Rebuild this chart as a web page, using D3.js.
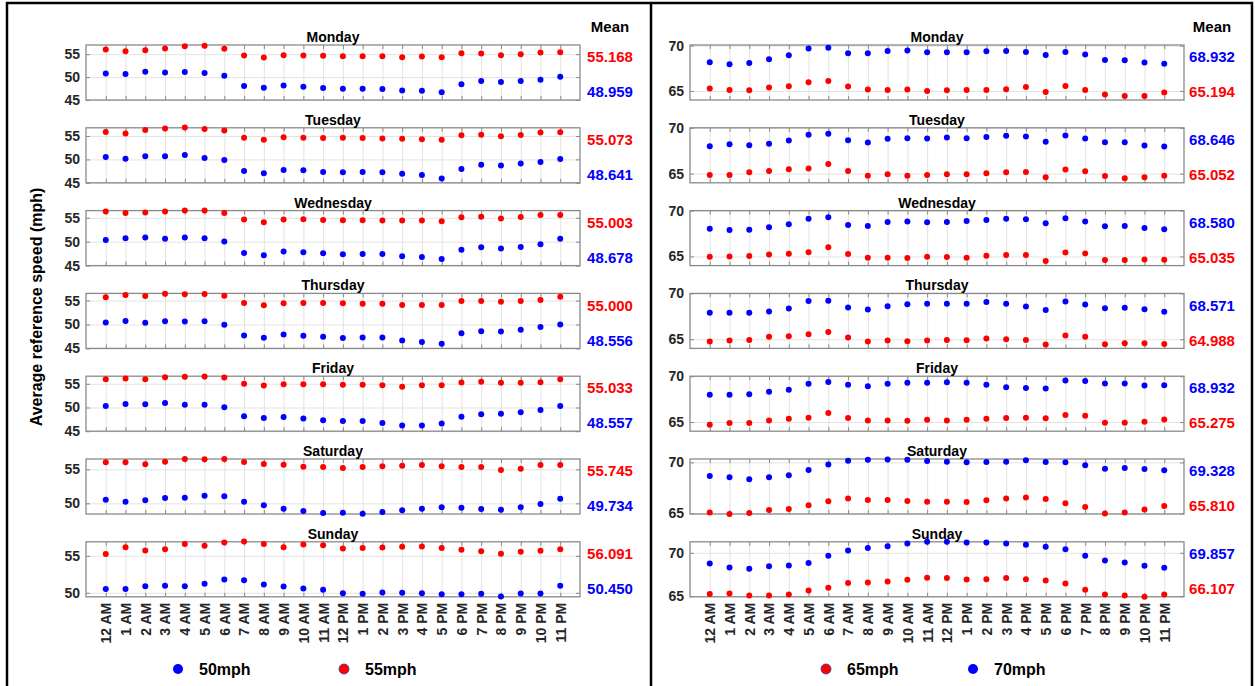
<!DOCTYPE html>
<html>
<head>
<meta charset="utf-8">
<script src="https://cdn.jsdelivr.net/npm/d3@7"></script>
<style>
  body { margin: 0; background: #fff; }
  svg { display: block; font-family: "Liberation Sans", Arial, sans-serif; font-weight: bold; }
</style>
</head>
<body>
<div id="chart"></div>
<script>
// hour-of-day categories
const hours = ['12 AM','1 AM','2 AM','3 AM','4 AM','5 AM','6 AM','7 AM','8 AM','9 AM','10 AM','11 AM',
  '12 PM','1 PM','2 PM','3 PM','4 PM','5 PM','6 PM','7 PM','8 PM','9 PM','10 PM','11 PM'];
const days = ['Monday','Tuesday','Wednesday','Thursday','Friday','Saturday','Sunday'];

// 50 mph zones (one row per day)
const speed50 = [
  [50.80,50.65,51.16,51.01,51.09,50.87,50.29,48.04,47.68,48.19,47.90,47.61,47.46,47.46,47.39,47.10,47.03,46.67,48.41,49.13,48.91,49.13,49.42,50.07],
  [50.51,50.14,50.65,50.65,50.94,50.29,49.86,47.54,47.03,47.75,47.68,47.32,47.25,47.32,47.25,46.96,46.67,45.94,47.97,48.84,48.70,49.13,49.42,50.07],
  [50.37,50.71,50.85,50.64,50.85,50.71,50.02,47.65,47.16,47.93,47.79,47.58,47.37,47.44,47.44,46.95,46.81,46.39,48.34,48.83,48.55,48.90,49.46,50.64],
  [50.41,50.75,50.34,50.68,50.61,50.68,49.92,47.70,47.22,47.91,47.63,47.43,47.15,47.29,47.29,46.66,46.32,45.97,48.19,48.60,48.53,48.88,49.50,49.99],
  [50.31,50.73,50.66,50.94,50.59,50.59,50.03,48.14,47.80,48.00,47.66,47.31,47.17,47.17,46.75,46.19,46.19,46.61,48.07,48.56,48.70,48.98,49.47,50.31],
  [50.54,50.25,50.44,50.78,50.83,51.13,51.03,50.25,49.71,49.22,48.87,48.58,48.63,48.48,48.73,48.97,49.22,49.41,49.36,49.17,49.07,49.41,49.90,50.69],
  [50.50,50.50,50.90,50.95,50.90,51.22,51.80,51.71,51.13,50.86,50.59,50.41,49.95,49.86,50.05,50.00,49.95,49.82,49.82,49.86,49.50,49.91,49.91,50.95]
];
// 55 mph zones
const speed55 = [
  [56.01,55.65,55.87,56.23,56.74,56.81,56.16,54.71,54.28,54.78,54.71,54.64,54.57,54.57,54.57,54.35,54.49,54.35,55.22,55.14,54.78,55.00,55.36,55.43],
  [55.87,55.51,56.30,56.59,56.81,56.52,56.16,54.64,54.20,54.71,54.64,54.57,54.64,54.57,54.49,54.42,54.28,54.20,55.14,55.29,54.93,55.22,55.72,55.80],
  [56.29,56.01,56.08,56.29,56.50,56.50,56.01,54.62,54.06,54.62,54.69,54.55,54.48,54.48,54.41,54.41,54.41,54.27,55.10,55.24,54.83,55.17,55.59,55.59],
  [55.67,56.16,55.95,56.43,56.30,56.37,56.02,54.49,54.01,54.42,54.49,54.49,54.42,54.36,54.36,54.08,54.08,54.08,54.91,54.91,54.77,54.91,55.12,55.81],
  [55.97,56.11,55.97,56.39,56.46,56.53,56.32,54.99,54.64,54.92,54.92,54.92,54.78,54.78,54.71,54.36,54.71,54.71,55.27,55.41,55.20,55.20,55.34,55.97],
  [56.03,56.03,55.74,56.13,56.52,56.47,56.52,56.08,55.78,55.69,55.39,55.34,55.20,55.34,55.44,55.54,55.64,55.44,55.34,55.34,54.90,55.10,55.64,55.64],
  [55.23,56.17,55.72,55.90,56.58,56.35,56.80,56.94,56.58,56.17,56.53,56.44,55.99,56.04,56.13,56.22,56.26,56.04,55.81,55.63,55.27,55.54,55.68,55.90]
];
// 65 mph zones
const speed65 = [
  [65.26,65.11,65.07,65.37,65.51,65.96,66.10,65.48,65.15,65.11,65.15,65.00,65.07,65.11,65.11,65.18,65.44,64.89,65.55,65.11,64.60,64.45,64.45,64.82],
  [64.85,64.85,65.15,65.29,65.47,65.55,66.06,65.29,64.78,64.93,64.78,64.85,64.93,64.93,65.04,65.15,65.18,64.60,65.44,65.26,64.74,64.49,64.60,64.78],
  [64.96,65.00,65.04,65.22,65.29,65.47,65.99,65.26,64.85,64.85,64.82,64.96,64.93,64.85,65.07,65.15,65.15,64.49,65.44,65.33,64.60,64.60,64.67,64.64],
  [64.74,64.85,64.93,65.26,65.33,65.55,65.80,65.18,64.74,64.85,64.78,64.85,64.93,64.89,65.07,65.00,64.93,64.42,65.40,65.26,64.45,64.56,64.56,64.49],
  [64.71,64.89,64.89,65.18,65.36,65.47,65.98,65.43,65.18,65.18,65.14,65.25,65.18,65.25,65.36,65.43,65.47,65.40,65.76,65.69,64.93,64.93,65.04,65.29],
  [65.07,64.93,65.03,65.33,65.42,65.78,66.18,66.44,66.31,66.31,66.21,66.14,66.14,66.11,66.27,66.44,66.54,66.41,65.98,65.62,64.97,65.07,65.36,65.72],
  [65.23,65.31,65.08,65.08,65.19,65.65,65.96,66.50,66.58,66.69,66.88,67.12,67.08,66.92,66.96,67.08,66.96,66.81,66.46,65.73,65.19,65.08,64.92,65.19]
];
// 70 mph zones
const speed70 = [
  [68.16,67.94,68.09,68.49,68.93,69.67,69.78,69.15,69.15,69.41,69.45,69.26,69.26,69.26,69.38,69.41,69.30,68.97,69.30,69.01,68.42,68.38,68.13,68.01],
  [67.99,68.21,68.10,68.25,68.61,69.23,69.34,68.65,68.39,68.80,68.87,68.83,68.94,68.87,69.01,69.12,69.05,68.47,69.16,68.83,68.43,68.43,68.07,67.96],
  [68.03,67.88,67.92,68.18,68.50,69.12,69.27,68.43,68.32,68.76,68.80,68.72,68.76,68.87,68.98,69.12,69.05,68.61,69.16,68.80,68.28,68.32,68.10,67.96],
  [67.88,67.88,67.88,68.03,68.36,69.16,69.20,68.47,68.25,68.61,68.83,68.87,68.87,68.87,69.05,68.87,68.58,68.18,69.12,68.80,68.39,68.43,68.28,67.99],
  [67.97,67.97,68.04,68.30,68.51,69.17,69.38,69.06,68.91,69.17,69.28,69.28,69.35,69.28,69.06,68.80,68.70,68.66,69.53,69.49,69.20,69.20,68.99,69.02],
  [68.66,68.53,68.33,68.53,68.73,69.25,69.80,70.16,70.26,70.29,70.26,70.13,70.07,70.00,70.03,70.07,70.20,70.03,70.00,69.71,69.38,69.44,69.35,69.22],
  [68.77,68.31,68.15,68.46,68.54,68.81,69.65,70.27,70.54,70.77,71.08,71.27,71.27,71.19,71.19,71.08,70.92,70.69,70.42,69.65,69.12,68.88,68.50,68.27]
];

// daily means printed at the right of each row
const mean50 = ['48.959','48.641','48.678','48.556','48.557','49.734','50.450'];
const mean55 = ['55.168','55.073','55.003','55.000','55.033','55.745','56.091'];
const mean65 = ['65.194','65.052','65.035','64.988','65.275','65.810','66.107'];
const mean70 = ['68.932','68.646','68.580','68.571','68.932','69.328','69.857'];

// y-axis limits and ticks per row
const yLimLeft = [[45,57],[45,56.75],[45,56.5],[45,56.5],[45,56.6],[48.43,56.52],[49.46,56.89]];
const yTicksLeft = [[45,50,55],[45,50,55],[45,50,55],[45,50,55],[45,50,55],[50,55],[50,55]];
const yLimRight = [[64,70.07],[64,70],[64,70],[64,70],[64,70],[64.93,70.33],[64.92,71.27]];
const yTicksRight = [[65,70],[65,70],[65,70],[65,70],[65,70],[65,70],[65,70]];

const RED = '#ff0000', BLUE = '#0000ff';

const width = 1255, height = 686;
const svg = d3.select('#chart').append('svg')
  .attr('width', width)
  .attr('height', height);

// outer frames
svg.append('rect')
  .attr('x', 7).attr('y', 3).attr('width', 1245).attr('height', 700)
  .attr('fill', 'none').attr('stroke', '#000').attr('stroke-width', 2.5);
svg.append('line')
  .attr('x1', 651).attr('x2', 651).attr('y1', 3).attr('y2', 700)
  .attr('stroke', '#000').attr('stroke-width', 2.5);

const rowTop = 45, rowStep = 82.8, rowH = 55;

function drawPanel(cfg) {
  const x = d3.scaleLinear().domain([-1, 24]).range([cfg.x0, cfg.x1]);

  // "Mean" header
  svg.append('text')
    .attr('x', cfg.meanX).attr('y', 32)
    .attr('text-anchor', 'middle')
    .style('font-size', '15px')
    .text('Mean');

  days.forEach((day, i) => {
    const top = rowTop + i * rowStep;
    const y = d3.scaleLinear().domain(cfg.yLim[i]).range([top + rowH, top]);
    const g = svg.append('g');

    // grid
    g.append('g')
      .attr('transform', `translate(0,${top + rowH})`)
      .call(d3.axisBottom(x).tickValues(d3.range(24)).tickSize(-rowH).tickFormat(''))
      .call(a => a.select('.domain').remove())
      .selectAll('line').attr('stroke', '#e3e3e3');
    g.append('g')
      .attr('transform', `translate(${cfg.x0},0)`)
      .call(d3.axisLeft(y).tickValues(cfg.yTicks[i]).tickSize(-(cfg.x1 - cfg.x0)).tickFormat(''))
      .call(a => a.select('.domain').remove())
      .selectAll('line').attr('stroke', '#e3e3e3');

    // inward ticks on all four sides
    const tickCol = '#8a8a8a';
    const bottomAx = g.append('g')
      .attr('transform', `translate(0,${top + rowH})`)
      .call(d3.axisBottom(x).tickValues(d3.range(24)).tickSize(-4)
        .tickFormat(i === days.length - 1 ? (d => hours[d]) : ''));
    g.append('g')
      .attr('transform', `translate(0,${top})`)
      .call(d3.axisTop(x).tickValues(d3.range(24)).tickSize(-4).tickFormat(''));
    const leftAx = g.append('g')
      .attr('transform', `translate(${cfg.x0},0)`)
      .call(d3.axisLeft(y).tickValues(cfg.yTicks[i]).tickSize(-4).tickPadding(6)
        .tickFormat(d3.format('d')));
    g.append('g')
      .attr('transform', `translate(${cfg.x1},0)`)
      .call(d3.axisRight(y).tickValues(cfg.yTicks[i]).tickSize(-4).tickFormat(''));

    g.selectAll('.domain').remove();
    g.selectAll('.tick line').filter(function() {
      return !d3.select(this).attr('stroke') || d3.select(this).attr('stroke') === 'currentColor';
    }).attr('stroke', tickCol).attr('stroke-width', 1);

    leftAx.selectAll('text')
      .attr('fill', '#262626')
      .style('font-size', '14px')
      .style('font-family', '"Liberation Sans", Arial, sans-serif')
      .style('font-weight', 'bold');

    if (i === days.length - 1) {
      bottomAx.selectAll('text')
        .attr('transform', 'rotate(-90)')
        .attr('x', -6).attr('y', 0).attr('dy', '0.35em')
        .attr('text-anchor', 'end')
        .attr('fill', '#262626')
        .style('font-size', '14px')
        .style('font-family', '"Liberation Sans", Arial, sans-serif')
        .style('font-weight', 'bold');
    }

    // axes box
    g.append('rect')
      .attr('x', cfg.x0).attr('y', top)
      .attr('width', cfg.x1 - cfg.x0).attr('height', rowH)
      .attr('fill', 'none').attr('stroke', tickCol).attr('stroke-width', 1.3);

    // day title
    g.append('text')
      .attr('x', (cfg.x0 + cfg.x1) / 2).attr('y', top - 3)
      .attr('text-anchor', 'middle')
      .style('font-size', '14px')
      .text(day);

    // points
    cfg.series.forEach(s => {
      g.selectAll(null)
        .data(s.values[i])
        .enter().append('circle')
        .attr('cx', (d, h) => x(h))
        .attr('cy', d => y(d))
        .attr('r', 3)
        .attr('fill', s.color);
    });

    // mean labels
    cfg.means.forEach((m, k) => {
      g.append('text')
        .attr('x', cfg.meanX).attr('y', top + 12 + k * 35)
        .attr('dy', '0.35em')
        .attr('text-anchor', 'middle')
        .attr('fill', m.color)
        .style('font-size', '15px')
        .text(m.values[i]);
    });
  });

  // legend
  cfg.legend.forEach(l => {
    svg.append('circle')
      .attr('cx', l.x).attr('cy', 669).attr('r', 5)
      .attr('fill', l.color)
      .attr('stroke', l.color === RED ? '#3a3a8a' : 'none')
      .attr('stroke-width', 0.8);
    svg.append('text')
      .attr('x', l.x + 21).attr('y', 675)
      .style('font-size', '16px')
      .text(l.label);
  });
}

drawPanel({
  x0: 86, x1: 580, meanX: 610,
  yLim: yLimLeft, yTicks: yTicksLeft,
  series: [{ values: speed55, color: RED }, { values: speed50, color: BLUE }],
  means: [{ values: mean55, color: RED }, { values: mean50, color: BLUE }],
  legend: [{ x: 178, color: BLUE, label: '50mph' }, { x: 344, color: RED, label: '55mph' }]
});

drawPanel({
  x0: 690, x1: 1184, meanX: 1212,
  yLim: yLimRight, yTicks: yTicksRight,
  series: [{ values: speed65, color: RED }, { values: speed70, color: BLUE }],
  means: [{ values: mean70, color: BLUE }, { values: mean65, color: RED }],
  legend: [{ x: 826, color: RED, label: '65mph' }, { x: 973, color: BLUE, label: '70mph' }]
});

// shared y-axis title
svg.append('text')
  .attr('transform', 'translate(42,307) rotate(-90)')
  .attr('text-anchor', 'middle')
  .style('font-size', '16px')
  .text('Average reference speed (mph)');
</script>
</body>
</html>
